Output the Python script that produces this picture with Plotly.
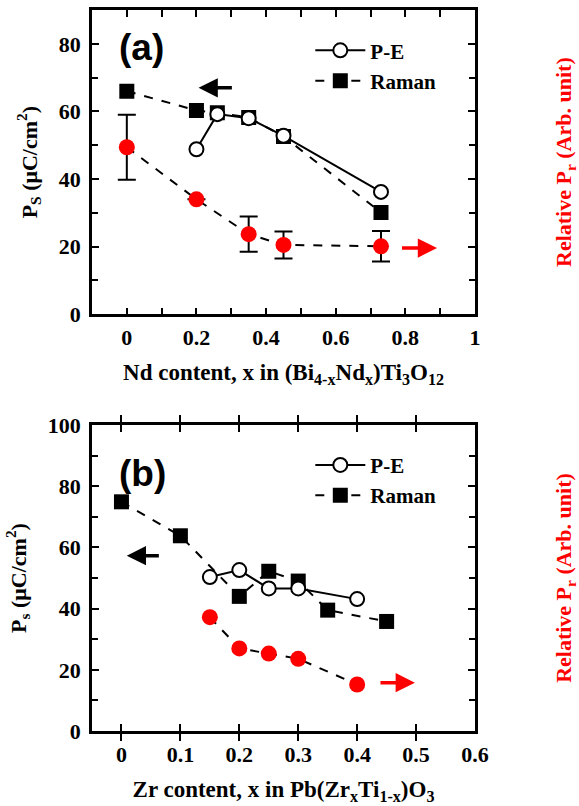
import plotly.graph_objects as go

# ---------- Panel (a): Nd content in (Bi4-xNdx)Ti3O12 ----------
a_pe_x = [0.20, 0.26, 0.35, 0.45, 0.73]
a_pe_y = [48.8, 59.2, 58.0, 52.8, 36.2]
a_raman_x = [0.0, 0.20, 0.26, 0.35, 0.45, 0.73]
a_raman_y = [66.0, 60.3, 59.6, 58.2, 52.6, 30.1]
a_pr_x = [0.0, 0.20, 0.35, 0.45, 0.73]
a_pr_y = [49.4, 34.0, 23.7, 20.5, 20.1]
a_pr_err = [9.6, 0.0, 5.2, 4.0, 4.5]

# ---------- Panel (b): Zr content in Pb(ZrxTi1-x)O3 ----------
b_pe_x = [0.15, 0.20, 0.25, 0.30, 0.40]
b_pe_y = [50.3, 52.6, 46.6, 46.6, 43.1]
b_raman_x = [0.0, 0.10, 0.20, 0.25, 0.30, 0.35, 0.45]
b_raman_y = [74.9, 63.8, 44.0, 52.2, 49.0, 39.5, 35.8]
b_pr_x = [0.15, 0.20, 0.25, 0.30, 0.40]
b_pr_y = [37.2, 27.0, 25.3, 23.6, 15.2]

# arrows: (head_x, tail_x, y)
a_left_arrow = (0.206, 0.306, 67.0)
a_right_arrow = (0.891, 0.786, 19.6)
b_left_arrow = (0.009, 0.066, 57.3)
b_right_arrow = (0.498, 0.437, 15.8)

SERIF = "Times New Roman, Liberation Serif, serif"
SANS = "Arial, Liberation Sans, sans-serif"
RED = "#ff0000"

fig = go.Figure()

def add_panel(xa, ya, yr, leg, pe_x, pe_y, ra_x, ra_y, pr_x, pr_y, pr_err=None):
    fig.add_trace(go.Scatter(
        x=ra_x, y=ra_y, xaxis=xa, yaxis=ya, mode="lines+markers", name="Raman",
        line=dict(color="black", width=2, dash="dash"),
        marker=dict(symbol="square", size=15, color="black"),
        legend=leg, legendrank=2))
    fig.add_trace(go.Scatter(
        x=pe_x, y=pe_y, xaxis=xa, yaxis=ya, mode="lines+markers", name="P-E",
        line=dict(color="black", width=2),
        marker=dict(symbol="circle", size=14, color="white",
                    line=dict(color="black", width=2)),
        legend=leg, legendrank=1))
    err = None
    if pr_err is not None:
        err = dict(type="data", array=pr_err, visible=True, color="black",
                   thickness=2, width=9)
    fig.add_trace(go.Scatter(
        x=pr_x, y=pr_y, xaxis=xa, yaxis=yr, mode="lines+markers",
        showlegend=False, error_y=err,
        line=dict(color="black", width=2, dash="dash"),
        marker=dict(symbol="circle", size=16, color=RED)))

add_panel("x", "y", "y3", "legend", a_pe_x, a_pe_y, a_raman_x, a_raman_y,
          a_pr_x, a_pr_y, a_pr_err)
add_panel("x2", "y2", "y4", "legend2", b_pe_x, b_pe_y, b_raman_x, b_raman_y,
          b_pr_x, b_pr_y)

tickfont = dict(family=SERIF, size=22, color="black", weight="bold")
xtitlefont = dict(family=SERIF, size=23, color="black", weight="bold")
ytitlefont = dict(family=SERIF, size=22, color="black", weight="bold")

def xaxis_cfg(rng, dtick, minor, title, anchor):
    cfg = dict(range=rng, dtick=dtick, tick0=0, showline=True, linewidth=2.5,
               linecolor="black", mirror="allticks", ticks="inside", ticklen=7,
               tickwidth=2, tickcolor="black", showgrid=False, zeroline=False,
               tickfont=tickfont, anchor=anchor, domain=[0, 1],
               automargin=False, ticklabelstandoff=2,
               title=dict(text=title, font=xtitlefont, standoff=15))
    if minor:
        cfg["minor"] = dict(dtick=minor, ticks="inside", ticklen=5,
                            tickwidth=2, tickcolor="black", showgrid=False)
    return cfg

def yaxis_cfg(rng, domain, title, anchor):
    return dict(range=rng, dtick=20, tick0=0, domain=domain, showline=True,
                linewidth=2.5, linecolor="black", mirror="allticks",
                ticks="inside", ticklen=7, tickwidth=2, tickcolor="black",
                minor=dict(dtick=10, ticks="inside", ticklen=6, tickwidth=2,
                           tickcolor="black", showgrid=False),
                showgrid=False, zeroline=False, tickfont=tickfont,
                anchor=anchor, ticklabelstandoff=4, automargin=False,
                title=dict(text=title, font=ytitlefont, standoff=16))

def yright_cfg(rng, overlay, title, anchor):
    return dict(range=rng, overlaying=overlay, side="right", anchor=anchor,
                showticklabels=False, ticks="", showgrid=False, zeroline=False,
                showline=False, automargin=False,
                title=dict(text=title, standoff=82,
                           font=dict(family=SERIF, size=22, color=RED,
                                     weight="bold")))

top_dom = [0.578, 1.0]
bot_dom = [0.0, 0.4244]

legend_common = dict(font=dict(family=SERIF, size=21, color="black",
                               weight="bold"),
                     bgcolor="rgba(0,0,0,0)", borderwidth=0,
                     itemwidth=50, tracegroupgap=0,
                     xanchor="left", yanchor="top", traceorder="normal")

fig.update_layout(
    width=579, height=806,
    margin=dict(l=92, r=104, t=10, b=75),
    plot_bgcolor="white", paper_bgcolor="white",
    xaxis=xaxis_cfg([-0.1, 1.0], 0.2, 0.1,
                    "Nd content, x in (Bi<sub>4-x</sub>Nd<sub>x</sub>)Ti<sub>3</sub>O<sub>12</sub>",
                    "y"),
    yaxis=yaxis_cfg([0, 90], top_dom, "P<sub>S</sub> (μC/cm<sup>2</sup>)", "x"),
    yaxis3=yright_cfg([0, 90], "y", "Relative P<sub>r</sub> (Arb. unit)", "x"),
    xaxis2=xaxis_cfg([-0.05, 0.6], 0.1, None,
                     "Zr content, x in Pb(Zr<sub>x</sub>Ti<sub>1-x</sub>)O<sub>3</sub>",
                     "y2"),
    yaxis2=yaxis_cfg([0, 100], bot_dom, "P<sub>s</sub> (μC/cm<sup>2</sup>)", "x2"),
    yaxis4=yright_cfg([0, 100], "y2", "Relative P<sub>r</sub> (Arb. unit)", "x2"),
    legend=dict(x=0.57, y=0.972, **legend_common),
    legend2=dict(x=0.57, y=0.397, **legend_common),
    showlegend=True,
)

def arrow(xref, yref, spec, color):
    hx, tx, y = spec
    fig.add_annotation(x=hx, y=y, ax=tx, ay=y, xref=xref, yref=yref,
                       axref=xref, ayref=yref, showarrow=True, arrowhead=2,
                       arrowsize=1.1, arrowwidth=3.5, arrowcolor=color, text="")

arrow("x", "y", a_left_arrow, "black")
arrow("x", "y", a_right_arrow, RED)
arrow("x2", "y2", b_left_arrow, "black")
arrow("x2", "y2", b_right_arrow, RED)

fig.add_annotation(x=0.043, y=79, xref="x", yref="y", text="(a)",
                   showarrow=False,
                   font=dict(family=SANS, size=37, color="black", weight="bold"))
fig.add_annotation(x=0.036, y=84, xref="x2", yref="y2", text="(b)",
                   showarrow=False,
                   font=dict(family=SANS, size=37, color="black", weight="bold"))

fig.write_html("out.html",
               config={"displayModeBar": False},
               post_script="document.body.style.margin='0';"
                           "document.body.style.overflow='hidden';")
